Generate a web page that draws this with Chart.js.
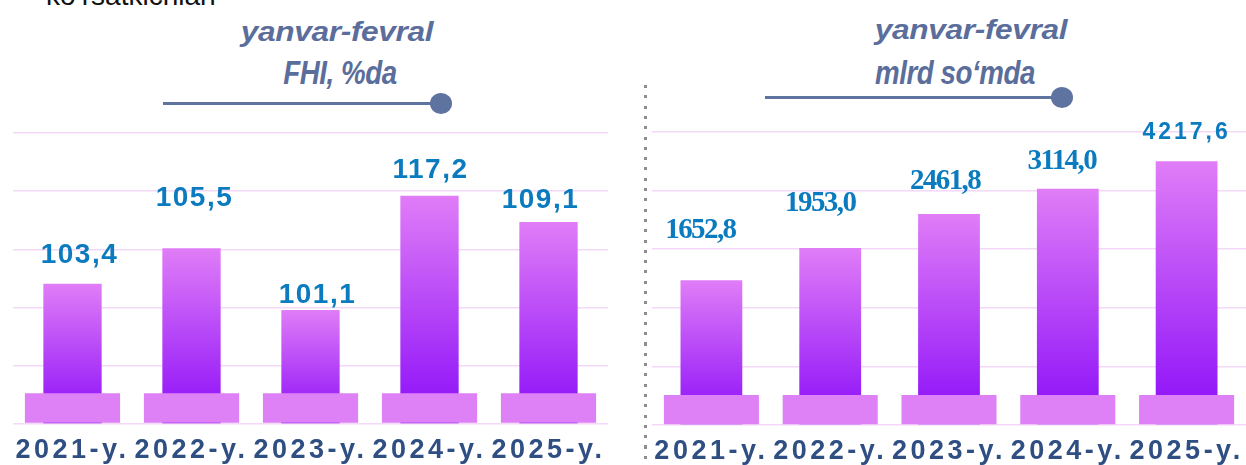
<!DOCTYPE html>
<html>
<head>
<meta charset="utf-8">
<script src="https://cdn.jsdelivr.net/npm/chart.js@4.4.1/dist/chart.umd.min.js"></script>
<style>
  html, body { margin: 0; padding: 0; background: #fff; }
  body { width: 1246px; height: 465px; overflow: hidden; position: relative; font-family: 'Liberation Sans', Arial, sans-serif; }
  .panel { position: absolute; top: 0; width: 623px; height: 465px; }
  .title { position: absolute; white-space: nowrap; line-height: 1;
           color: #5b6e9b; font-weight: bold; font-style: italic; }
  .t1 { font-size: 28px; letter-spacing: -0.3px; transform: translateX(-50%) scaleX(1.13); }
  .t2 { font-size: 33px; letter-spacing: -0.5px; transform: translateX(-50%) scaleX(0.84); }
  .rule { position: absolute; height: 3px; background: #5e73a0; }
  .knob { position: absolute; width: 22px; height: 21px; border-radius: 50%; background: #5e73a0; }
  .divider { position: absolute; left: 644px; top: 85px; width: 3px; height: 380px;
             background: repeating-linear-gradient(to bottom, #8c8c8c 0 3px, transparent 3px 10.3px); }
  .cut { position: absolute; left: 46px; top: -18px; font-size: 28px; line-height: 1; color: #111; white-space: nowrap; }
</style>
</head>
<body>
<div class="cut">ko‘rsatkichlari</div>

<div class="title t1" style="left:337px; top:18px;">yanvar-fevral</div>
<div class="title t2" style="left:340px; top:56px;">FHI, %da</div>
<div class="rule" style="left:163px; top:102px; width:270px;"></div>
<div class="knob" style="left:430px; top:93px;"></div>

<div class="title t1" style="left:971px; top:16px;">yanvar-fevral</div>
<div class="title t2" style="left:955px; top:56px;">mlrd so‘mda</div>
<div class="rule" style="left:765px; top:96px; width:290px;"></div>
<div class="knob" style="left:1051px; top:87px;"></div>

<div class="divider"></div>

<div class="panel" style="left:0"><canvas id="fhiChart" width="623" height="465"></canvas></div>
<div class="panel" style="left:623px"><canvas id="sumChart" width="623" height="465"></canvas></div>

<script>
// categories
const years = ['2021-y.', '2022-y.', '2023-y.', '2024-y.', '2025-y.'];

// left panel: FHI growth, %
const fhiLabels = ['103,4', '105,5', '101,1', '117,2', '109,1'];
// bar heights as drawn, in grid steps (the picture is not to scale)
const fhiBars = [2.41, 3.02, 1.96, 3.92, 3.47];
const fhiPlinths = [[0.02, 0.53], [0.02, 0.53], [0.02, 0.53], [0.02, 0.53], [0.02, 0.53]];

// right panel: volume, bln sum
const sumLabels = ['1652,8', '1953,0', '2461,8', '3114,0', '4217,6'];
const sumBars = [2.47, 3.02, 3.60, 4.03, 4.50];
const sumPlinths = [[0.0, 0.51], [0.0, 0.51], [0.0, 0.51], [0.0, 0.51], [0.0, 0.51]];

const gridSteps = 5;

// colours
const colors = {
    barTop: '#e07df7',
    barBottom: '#8a0cf8',
    plinth: '#de80f6',
    grid: '#f4d8f8',
    value: '#0b7bbf',
    year: '#2f4e82',
};

function barFill(c) {
    const chart = c.chart;
    if (!chart.chartArea || !c.parsed) return colors.barBottom;
    const ys = chart.scales.y;
    const top = ys.getPixelForValue(c.parsed.y);
    const bottom = ys.getPixelForValue(0);
    const g = chart.ctx.createLinearGradient(0, top, 0, bottom);
    g.addColorStop(0, colors.barTop);
    g.addColorStop(1, colors.barBottom);
    return g;
}

// value labels above the bars + letter spacing for the year labels
const valueLabels = {
    id: 'valueLabels',
    beforeDraw(chart, args, opts) {
        chart.ctx.letterSpacing = opts.yearSpacing;
    },
    afterDatasetsDraw(chart, args, opts) {
        const ctx = chart.ctx;
        const bars = chart.getDatasetMeta(0).data;
        ctx.save();
        ctx.fillStyle = colors.value;
        ctx.textAlign = 'center';
        ctx.textBaseline = 'middle';
        bars.forEach((bar, i) => {
            const f = opts.fonts[i];
            ctx.font = f.font;
            ctx.letterSpacing = f.spacing;
            ctx.fillText(opts.texts[i], bar.x + opts.shift[i], bar.y - opts.lift[i]);
        });
        ctx.restore();
    },
    afterDraw(chart) {
        chart.ctx.letterSpacing = '0px';
    }
};

function makeChart(id, bars, plinths, labelOpts, padding, axisHeight, barPct) {
    return new Chart(document.getElementById(id), {
        type: 'bar',
        data: {
            labels: years,
            datasets: [
                {
                    data: bars,
                    backgroundColor: barFill,
                    barPercentage: barPct,
                    categoryPercentage: 1,
                    grouped: false,
                    order: 1,
                },
                {
                    data: plinths,
                    backgroundColor: colors.plinth,
                    barPercentage: 0.8,
                    categoryPercentage: 1,
                    grouped: false,
                    order: 0,
                }
            ]
        },
        options: {
            responsive: false,
            animation: false,
            layout: { padding: padding },
            plugins: {
                legend: { display: false },
                tooltip: { enabled: false },
                valueLabels: labelOpts,
            },
            scales: {
                x: {
                    grid: { display: false, drawTicks: false },
                    border: { display: false },
                    ticks: {
                        color: colors.year,
                        font: { family: "'Liberation Sans', Arial, sans-serif", size: 27, weight: 'bold' },
                        padding: 10,
                        maxRotation: 0,
                        autoSkip: false,
                    },
                    afterFit: s => { s.height = axisHeight; },
                },
                y: {
                    min: 0,
                    max: gridSteps,
                    ticks: { display: false, stepSize: 1 },
                    grid: { color: colors.grid, lineWidth: 1.5, drawTicks: false },
                    border: { display: false },
                    afterFit: s => { s.width = 0; },
                }
            }
        },
        plugins: [valueLabels]
    });
}

const sansValue = { font: "bold 28px 'Liberation Sans', Arial, sans-serif", spacing: '1.5px' };
const sansSmall = { font: "bold 23px 'Liberation Sans', Arial, sans-serif", spacing: '3px' };
const serifValue = { font: "bold 29px 'Liberation Serif', 'Times New Roman', serif", spacing: '-1.6px' };

makeChart('fhiChart', fhiBars, fhiPlinths, {
    texts: fhiLabels,
    fonts: [sansValue, sansValue, sansValue, sansValue, sansValue],
    lift: [28, 50, 15, 26, 22],
    shift: [7, 3, 7, 1, -8],
    yearSpacing: '3.5px',
}, { left: 13, right: 15, top: 133, bottom: 0 }, 41, 0.49);

makeChart('sumChart', sumBars, sumPlinths, {
    texts: sumLabels,
    fonts: [serifValue, serifValue, serifValue, serifValue, sansSmall],
    lift: [50, 45, 33, 27, 29],
    shift: [-11, -10, -4, -6, 0],
    yearSpacing: '3.5px',
}, { left: 29, right: 0, top: 132, bottom: 0 }, 40, 0.52);
</script>
</body>
</html>
